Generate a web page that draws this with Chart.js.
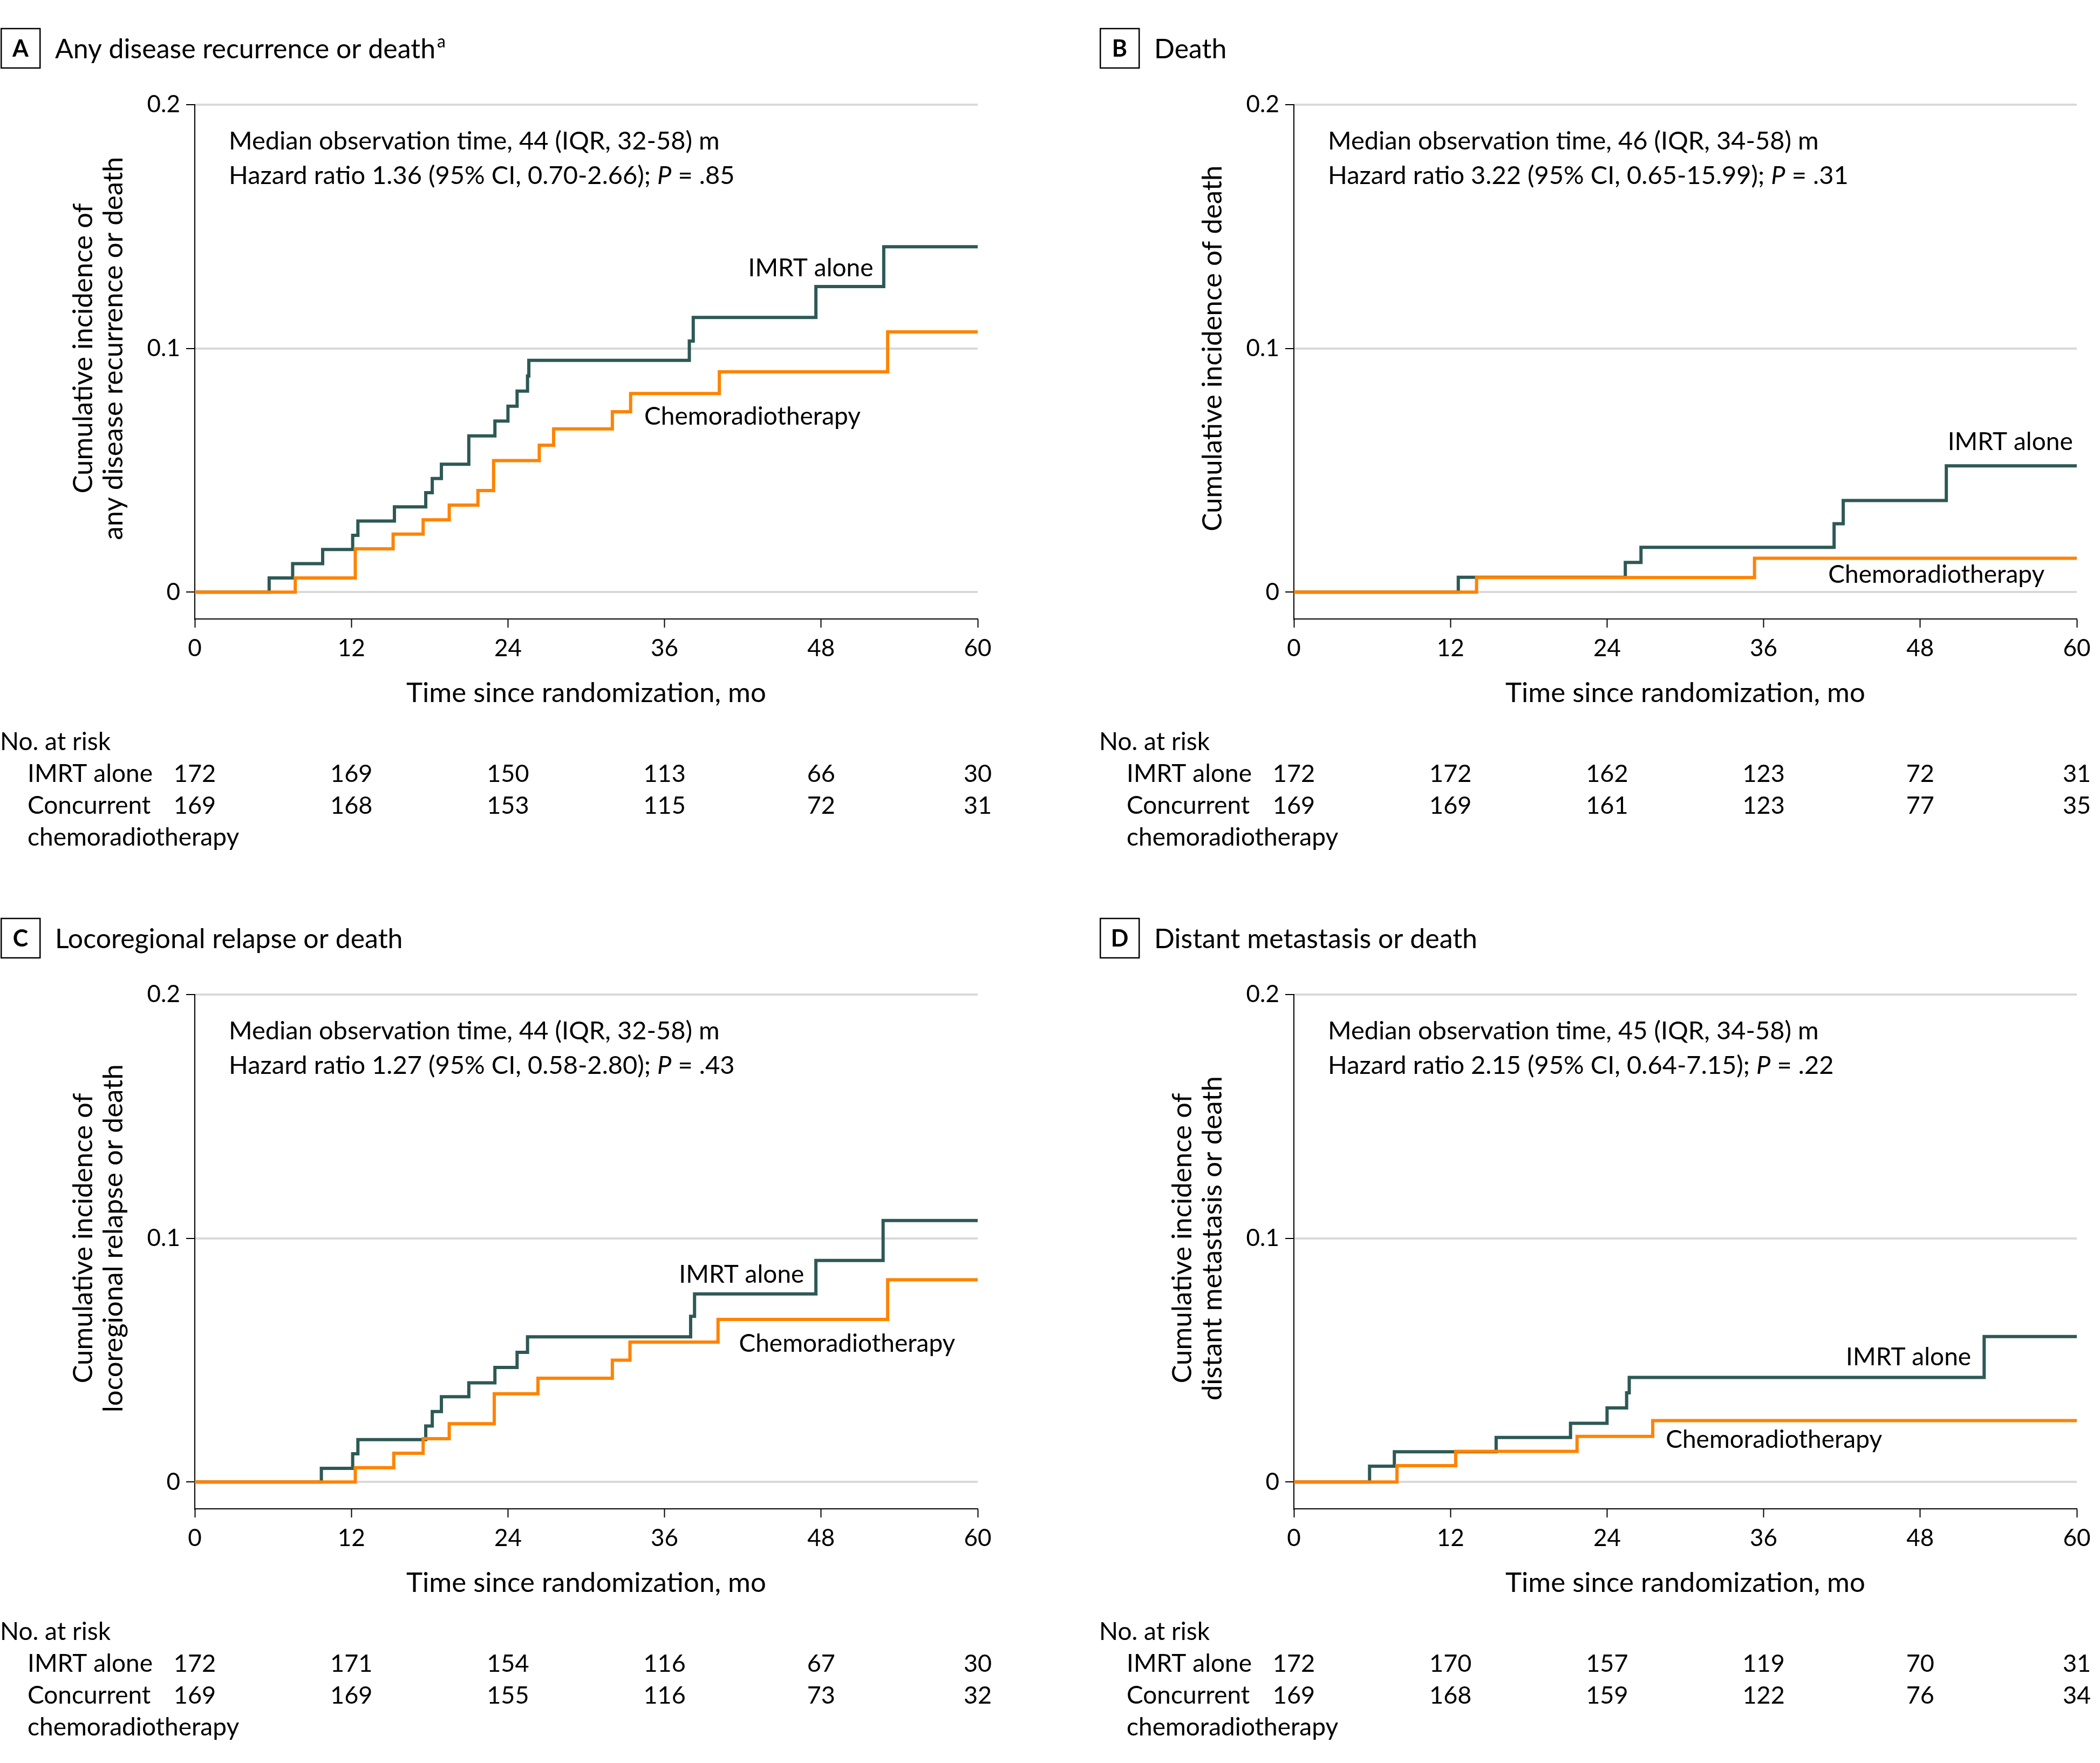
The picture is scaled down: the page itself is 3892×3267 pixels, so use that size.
<!DOCTYPE html>
<html><head><meta charset="utf-8">
<script src="https://cdn.jsdelivr.net/npm/chart.js@4.4.1/dist/chart.umd.min.js"></script>
<style>
html,body{margin:0;padding:0;background:#fff;}
body{width:3892px;height:3267px;position:relative;overflow:hidden;}
.panel{position:absolute;}
canvas{display:block;}
</style></head><body>
<div class="panel" style="left:0px;top:0px;"><canvas id="cA" width="1946" height="1649"></canvas></div>
<div class="panel" style="left:1946px;top:0px;"><canvas id="cB" width="1946" height="1649"></canvas></div>
<div class="panel" style="left:0px;top:1649px;"><canvas id="cC" width="1946" height="1618"></canvas></div>
<div class="panel" style="left:1946px;top:1649px;"><canvas id="cD" width="1946" height="1618"></canvas></div>
<script>
// ---------- shared axis data ----------
const xTicks = [0, 12, 24, 36, 48, 60];
const xTickLabels = ['0', '12', '24', '36', '48', '60'];
const yTicks = [0, 0.1, 0.2];
const yTickLabels = ['0', '0.1', '0.2'];
const seriesNames = ['IMRT alone', 'Chemoradiotherapy'];

// ---------- Panel A: any disease recurrence or death ----------
const aImrtMonths = [0, 5.7, 7.5, 9.8, 12.1, 12.5, 15.3, 17.7, 18.2, 18.9, 21.0, 23.0, 24.0, 24.7, 25.5, 25.6, 37.9, 38.2, 47.6, 52.8, 60];
const aImrtInc    = [0, 0.0058, 0.0117, 0.0175, 0.0233, 0.0292, 0.0350, 0.0408, 0.0466, 0.0525, 0.0641, 0.0702, 0.0763, 0.0825, 0.0887, 0.0951, 0.1030, 0.1127, 0.1254, 0.1417, 0.1417];
const aChemoMonths = [0, 7.7, 12.3, 15.2, 17.5, 19.5, 21.7, 22.9, 26.4, 27.5, 32.0, 33.4, 40.2, 53.1, 60];
const aChemoInc    = [0, 0.0058, 0.0178, 0.0238, 0.0297, 0.0357, 0.0417, 0.0540, 0.0603, 0.0670, 0.0740, 0.0815, 0.0904, 0.1068, 0.1068];
const aRiskImrt  = [172, 169, 150, 113, 66, 30];
const aRiskChemo = [169, 168, 153, 115, 72, 31];

// ---------- Panel B: death ----------
const bImrtMonths = [0, 12.6, 25.4, 26.6, 41.4, 42.1, 50.0, 60];
const bImrtInc    = [0, 0.0061, 0.0122, 0.0184, 0.0281, 0.0376, 0.0518, 0.0518];
const bChemoMonths = [0, 14.0, 35.3, 60];
const bChemoInc    = [0, 0.0060, 0.0139, 0.0139];
const bRiskImrt  = [172, 172, 162, 123, 72, 31];
const bRiskChemo = [169, 169, 161, 123, 77, 35];

// ---------- Panel C: locoregional relapse or death ----------
const cImrtMonths = [0, 9.7, 12.1, 12.5, 17.7, 18.2, 18.9, 21.0, 23.0, 24.7, 25.5, 38.0, 38.3, 47.6, 52.75, 60];
const cImrtInc    = [0, 0.0056, 0.0116, 0.0174, 0.0230, 0.0289, 0.0350, 0.0407, 0.0470, 0.0532, 0.0596, 0.0680, 0.0772, 0.0909, 0.1073, 0.1073];
const cChemoMonths = [0, 12.3, 15.25, 17.5, 19.5, 22.95, 26.3, 32.0, 33.35, 40.1, 53.1, 60];
const cChemoInc    = [0, 0.0059, 0.0118, 0.0178, 0.0239, 0.0362, 0.0426, 0.0500, 0.0574, 0.0667, 0.0830, 0.0830];
const cRiskImrt  = [172, 171, 154, 116, 67, 30];
const cRiskChemo = [169, 169, 155, 116, 73, 32];

// ---------- Panel D: distant metastasis or death ----------
const dImrtMonths = [0, 5.8, 7.7, 15.5, 21.2, 24.0, 25.5, 25.7, 52.9, 60];
const dImrtInc    = [0, 0.0065, 0.0124, 0.0183, 0.0241, 0.0304, 0.0366, 0.0429, 0.0597, 0.0597];
const dChemoMonths = [0, 7.9, 12.4, 21.7, 27.5, 60];
const dChemoInc    = [0, 0.0067, 0.0126, 0.0187, 0.0252, 0.0252];
const dRiskImrt  = [172, 170, 157, 119, 70, 31];
const dRiskChemo = [169, 168, 159, 122, 76, 34];

// ---------- texts ----------
const panelLetters = ['A', 'B', 'C', 'D'];
const panelTitles = ['Any disease recurrence or death', 'Death', 'Locoregional relapse or death', 'Distant metastasis or death'];
const yTitles = [
  ['Cumulative incidence of', 'any disease recurrence or death'],
  ['Cumulative incidence of death'],
  ['Cumulative incidence of', 'locoregional relapse or death'],
  ['Cumulative incidence of', 'distant metastasis or death']
];
const medianTexts = ['Median observation time, 44 (IQR, 32-58) m', 'Median observation time, 46 (IQR, 34-58) m',
  'Median observation time, 44 (IQR, 32-58) m', 'Median observation time, 45 (IQR, 34-58) m'];
const hrTexts = ['Hazard ratio 1.36 (95% CI, 0.70-2.66); ', 'Hazard ratio 3.22 (95% CI, 0.65-15.99); ',
  'Hazard ratio 1.27 (95% CI, 0.58-2.80); ', 'Hazard ratio 2.15 (95% CI, 0.64-7.15); '];
const pValues = ['.85', '.31', '.43', '.22'];
const riskHeader = 'No. at risk';
const riskRowNames = ['IMRT alone', 'Concurrent', 'chemoradiotherapy'];

// ---------- layout (pixels / label anchors) ----------
const FONT = 'Lato, "Noto Sans", "DejaVu Sans", sans-serif';
const Y_MIN = -0.011, Y_MAX = 0.2;
const PLOT_W = 1451, PLOT_TOP = 194, PLOT_BOTTOM = 1147, X_SCALE_H = 180, Y_SCALE_W = 120;
const layouts = [
  {canvas: 'cA', w: 1946, h: 1649, left: 361, imrtLab: {x: 52.0, y: 0.1297, align: 'right'}, chemoLab: {x: 34.45, y: 0.0687, align: 'left'}},
  {canvas: 'cB', w: 1946, h: 1649, left: 452, imrtLab: {x: 59.7, y: 0.0582, align: 'right'}, chemoLab: {x: 40.95, y: 0.0038, align: 'left'}},
  {canvas: 'cC', w: 1946, h: 1618, left: 361, imrtLab: {x: 46.7, y: 0.0818, align: 'right'}, chemoLab: {x: 41.7, y: 0.0534, align: 'left'}},
  {canvas: 'cD', w: 1946, h: 1618, left: 452, imrtLab: {x: 51.9, y: 0.0478, align: 'right'}, chemoLab: {x: 28.5, y: 0.0140, align: 'left'}}
];
const seriesData = [
  [[aImrtMonths, aImrtInc], [aChemoMonths, aChemoInc], [aRiskImrt, aRiskChemo]],
  [[bImrtMonths, bImrtInc], [bChemoMonths, bChemoInc], [bRiskImrt, bRiskChemo]],
  [[cImrtMonths, cImrtInc], [cChemoMonths, cChemoInc], [cRiskImrt, cRiskChemo]],
  [[dImrtMonths, dImrtInc], [dChemoMonths, dChemoInc], [dRiskImrt, dRiskChemo]]
];
const IMRT_COLOR = '#2d5955';
const CHEMO_COLOR = '#ff8300';

Chart.defaults.font.family = FONT;
Chart.defaults.color = '#000';

function f(size, style) { return (style || '') + ' ' + size + 'px ' + FONT; }

const panelTextPlugin = {
  id: 'panelText',
  afterDraw(chart, args, o) {
    const ctx = chart.ctx;
    const ca = chart.chartArea;
    const xs = chart.scales.x, ys = chart.scales.y;
    const i = o.index;
    ctx.save();
    ctx.fillStyle = '#000';
    // panel letter box
    const bx = ca.left - 360, by = ca.top - 141;
    ctx.strokeStyle = '#000';
    ctx.lineWidth = 2.5;
    ctx.strokeRect(bx + 1.25, by, 72, 73);
    ctx.font = f(43, 'bold');
    ctx.textAlign = 'center';
    ctx.textBaseline = 'alphabetic';
    ctx.fillText(panelLetters[i], bx + 37, by + 52);
    // panel title
    ctx.textAlign = 'left';
    ctx.font = f(50);
    ctx.fillText(panelTitles[i], ca.left - 259, ca.top - 86);
    if (i === 0) {
      const tw = ctx.measureText(panelTitles[i]).width;
      ctx.font = f(32);
      ctx.fillText('a', ca.left - 259 + tw + 3, ca.top - 106);
    }
    // annotations
    ctx.font = f(47);
    const ax = ca.left + 63;
    ctx.fillText(medianTexts[i], ax, ca.top + 83);
    let x = ax;
    const y2 = ca.top + 147;
    ctx.fillText(hrTexts[i], x, y2);
    x += ctx.measureText(hrTexts[i]).width;
    ctx.font = f(47, 'italic');
    ctx.fillText('P', x, y2);
    x += ctx.measureText('P').width;
    ctx.font = f(47);
    ctx.fillText(' = ' + pValues[i], x, y2);
    // series labels
    const L = o.layout;
    ctx.font = f(46);
    ctx.textAlign = L.imrtLab.align;
    ctx.fillText(seriesNames[0], xs.getPixelForValue(L.imrtLab.x), ys.getPixelForValue(L.imrtLab.y));
    ctx.textAlign = L.chemoLab.align;
    ctx.fillText(seriesNames[1], xs.getPixelForValue(L.chemoLab.x), ys.getPixelForValue(L.chemoLab.y));
    // y axis title (rotated, centred on 0..0.2)
    const yc = ys.getPixelForValue(0.1);
    const lines = yTitles[i];
    ctx.font = f(51);
    ctx.textAlign = 'center';
    const base2 = ca.left - 134, base1 = ca.left - 190;
    lines.forEach((t, k) => {
      const bxl = (lines.length === 1) ? base2 : (k === 0 ? base1 : base2);
      ctx.save();
      ctx.translate(bxl, yc);
      ctx.rotate(-Math.PI / 2);
      ctx.fillText(t, 0, 0);
      ctx.restore();
    });
    // number at risk table
    const risk = o.risk;
    ctx.textAlign = 'left';
    ctx.font = f(46);
    ctx.fillText(riskHeader, ca.left - 361, ca.bottom + 243);
    ctx.fillText(riskRowNames[0], ca.left - 310, ca.bottom + 302);
    ctx.fillText(riskRowNames[1], ca.left - 310, ca.bottom + 361);
    ctx.fillText(riskRowNames[2], ca.left - 310, ca.bottom + 420);
    ctx.textAlign = 'center';
    ctx.font = f(45);
    xTicks.forEach((t, k) => {
      const px = xs.getPixelForValue(t);
      ctx.fillText(String(risk[0][k]), px, ca.bottom + 302);
      ctx.fillText(String(risk[1][k]), px, ca.bottom + 361);
    });
    ctx.restore();
  }
};

layouts.forEach((L, i) => {
  const [imrt, chemo, risk] = seriesData[i];
  const toPts = (m, v) => m.map((mm, k) => ({x: mm, y: v[k]}));
  const ctx = document.getElementById(L.canvas).getContext('2d');
  new Chart(ctx, {
    type: 'line',
    data: {
      datasets: [
        {label: seriesNames[0], data: toPts(imrt[0], imrt[1]), borderColor: IMRT_COLOR, backgroundColor: IMRT_COLOR,
         borderWidth: 6, stepped: 'before', pointRadius: 0, fill: false, order: 2, borderJoinStyle: 'miter', borderCapStyle: 'butt'},
        {label: seriesNames[1], data: toPts(chemo[0], chemo[1]), borderColor: CHEMO_COLOR, backgroundColor: CHEMO_COLOR,
         borderWidth: 6, stepped: 'before', pointRadius: 0, fill: false, order: 1, borderJoinStyle: 'miter', borderCapStyle: 'butt'}
      ]
    },
    options: {
      responsive: false,
      animation: false,
      events: [],
      devicePixelRatio: 1,
      layout: {padding: {left: L.left - Y_SCALE_W, right: L.w - (L.left + PLOT_W), top: PLOT_TOP, bottom: L.h - PLOT_BOTTOM - X_SCALE_H}},
      scales: {
        x: {
          type: 'linear', min: 0, max: 60,
          afterBuildTicks: s => { s.ticks = xTicks.map(v => ({value: v})); },
          afterFit: s => { s.height = X_SCALE_H; },
          ticks: {callback: (v, k) => xTickLabels[k], font: {size: 44, family: FONT}, color: '#000', padding: 12, maxRotation: 0, autoSkip: false},
          grid: {display: true, drawOnChartArea: false, drawTicks: true, tickLength: 16, tickColor: '#000', tickWidth: 2, color: '#000'},
          border: {display: true, color: '#000', width: 2},
          title: {display: true, text: 'Time since randomization, mo', font: {size: 51, family: FONT}, color: '#000', padding: {top: 0, bottom: 12}}
        },
        y: {
          type: 'linear', min: Y_MIN, max: Y_MAX,
          afterBuildTicks: s => { s.ticks = yTicks.map(v => ({value: v})); },
          afterFit: s => { s.width = Y_SCALE_W; },
          ticks: {callback: (v, k) => yTickLabels[k], font: {size: 44, family: FONT}, color: '#000', padding: 11, autoSkip: false},
          grid: {display: true, color: '#d9d9d9', lineWidth: 4, drawTicks: true, tickLength: 16, tickColor: '#000', tickWidth: 2},
          border: {display: true, color: '#000', width: 2}
        }
      },
      plugins: {
        legend: {display: false},
        tooltip: {enabled: false},
        title: {display: false},
        panelText: {index: i, layout: L, risk: risk}
      }
    },
    plugins: [panelTextPlugin]
  });
});
</script>
</body></html>
